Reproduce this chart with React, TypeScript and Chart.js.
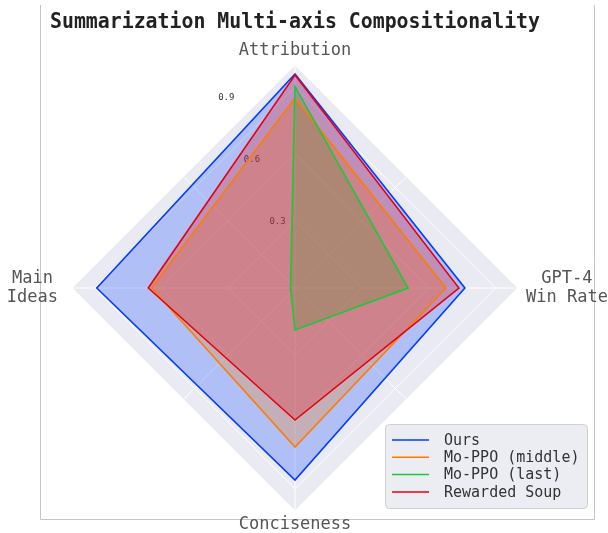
import React, { useEffect, useRef } from 'react';
import { Chart, registerables } from 'chart.js';

Chart.register(...registerables);

// ---- data ----
const TITLE = 'Summarization Multi-axis Compositionality';
const AXES: (string | string[])[] = ['Attribution', ['GPT-4', 'Win Rate'], 'Conciseness', ['Main', 'Ideas']];
const SERIES_NAMES = ['Ours', 'Mo-PPO (middle)', 'Mo-PPO (last)', 'Rewarded Soup'];
const OURS = [0.96, 0.762, 0.861, 0.889];
const MOPPO_MIDDLE = [0.852, 0.677, 0.713, 0.643];
const MOPPO_LAST = [0.903, 0.507, 0.188, 0.02];
const REWARDED_SOUP = [0.955, 0.735, 0.592, 0.658];
const SERIES_VALUES = [OURS, MOPPO_MIDDLE, MOPPO_LAST, REWARDED_SOUP];
const COLORS = ['#023eff', '#ff7c00', '#1ac938', '#e8000b'];
const TICK_VALUES = [0.3, 0.6, 0.9];
const TICK_LABELS = ['0.3', '0.6', '0.9'];
const R_MIN = 0;
const R_MAX = 1.0;

const FONT = "'DejaVu Sans Mono', monospace";

function hexToRgba(hex: string, a: number) {
  const n = parseInt(hex.slice(1), 16);
  return `rgba(${(n >> 16) & 255},${(n >> 8) & 255},${n & 255},${a})`;
}

const decorPlugin = {
  id: 'decor',
  beforeDraw(chart: any) {
    const ctx = chart.ctx;
    const s = chart.scales.r;
    const n = AXES.length;
    ctx.save();
    // frame
    ctx.strokeStyle = '#c4c4c4';
    ctx.lineWidth = 1;
    ctx.beginPath();
    ctx.moveTo(40.5, 5);
    ctx.lineTo(40.5, 519.5);
    ctx.lineTo(594.5, 519.5);
    ctx.lineTo(594.5, 5);
    ctx.stroke();
    // polar background polygon
    ctx.beginPath();
    for (let i = 0; i < n; i++) {
      const p = s.getPointPositionForValue(i, R_MAX);
      if (i === 0) ctx.moveTo(p.x, p.y);
      else ctx.lineTo(p.x, p.y);
    }
    ctx.closePath();
    ctx.fillStyle = '#eaeaf2';
    ctx.fill();
    // diagonal spokes between axes
    ctx.strokeStyle = '#ffffff';
    ctx.lineWidth = 1;
    for (let i = 0; i < n; i++) {
      const a = s.getPointPositionForValue(i, R_MAX);
      const b = s.getPointPositionForValue((i + 1) % n, R_MAX);
      ctx.beginPath();
      ctx.moveTo(s.xCenter, s.yCenter);
      ctx.lineTo((a.x + b.x) / 2, (a.y + b.y) / 2);
      ctx.stroke();
    }
    // radial tick labels
    ctx.fillStyle = '#333333';
    ctx.font = `9px ${FONT}`;
    ctx.textAlign = 'left';
    ctx.textBaseline = 'bottom';
    const ang = (22.5 * Math.PI) / 180;
    TICK_VALUES.forEach((v, k) => {
      const d = s.getDistanceFromCenterForValue(v);
      const x = s.xCenter - d * Math.sin(ang);
      const y = s.yCenter - d * Math.cos(ang);
      ctx.fillText(TICK_LABELS[k], x, y);
    });
    ctx.restore();
  },
  afterDraw(chart: any) {
    const ctx = chart.ctx;
    const s = chart.scales.r;
    const n = AXES.length;
    ctx.save();
    // axis (point) labels
    ctx.font = `17px ${FONT}`;
    ctx.fillStyle = '#555555';
    ctx.textAlign = 'center';
    ctx.textBaseline = 'middle';
    const pads = [5, 8, 4, 14];
    const lineH = 19;
    for (let i = 0; i < n; i++) {
      const lab = AXES[i];
      const lines = Array.isArray(lab) ? lab : [lab];
      const w = Math.max(...lines.map((l) => ctx.measureText(l).width));
      const h = lines.length * lineH;
      const p0 = s.getPointPosition(i, 1);
      const dx = p0.x - s.xCenter;
      const dy = p0.y - s.yCenter;
      const half = Math.abs(dx) * w / 2 + Math.abs(dy) * h / 2;
      const p = s.getPointPosition(i, s.drawingArea + pads[i] + half);
      lines.forEach((l, j) => {
        ctx.fillText(l, p.x, p.y - h / 2 + lineH * (j + 0.5));
      });
    }
    // legend
    const bx = 385, by = 424, bw = 202, bh = 84;
    ctx.beginPath();
    ctx.roundRect(bx + 0.5, by + 0.5, bw, bh, 4);
    ctx.fillStyle = 'rgba(234,234,242,0.92)';
    ctx.fill();
    ctx.strokeStyle = '#d0d0d0';
    ctx.lineWidth = 1;
    ctx.stroke();
    ctx.font = `15px ${FONT}`;
    ctx.textAlign = 'left';
    ctx.textBaseline = 'middle';
    SERIES_NAMES.forEach((name, k) => {
      const y = 440 + k * 17.3;
      ctx.strokeStyle = COLORS[k];
      ctx.lineWidth = 1.5;
      ctx.beginPath();
      ctx.moveTo(392, y);
      ctx.lineTo(429, y);
      ctx.stroke();
      ctx.fillStyle = '#333333';
      ctx.fillText(name, 444, y + 1);
    });
    ctx.restore();
  },
};

export default function App() {
  const ref = useRef<HTMLCanvasElement>(null);
  useEffect(() => {
    if (!ref.current) return;
    const chart = new Chart(ref.current, {
      type: 'radar',
      data: {
        labels: AXES as any,
        datasets: SERIES_NAMES.map((name, k) => ({
          label: name,
          data: SERIES_VALUES[k],
          borderColor: COLORS[k],
          backgroundColor: hexToRgba(COLORS[k], 0.25),
          borderWidth: 1.6,
          fill: true,
          pointRadius: 0,
          order: SERIES_NAMES.length - k,
        })),
      },
      options: {
        responsive: false,
        animation: false,
        devicePixelRatio: 1,
        layout: { padding: { left: 50, right: 68, top: 0, bottom: 22 } },
        plugins: {
          legend: { display: false },
          tooltip: { enabled: false },
          filler: { drawTime: 'beforeDatasetsDraw' },
          title: {
            display: true,
            text: TITLE,
            color: '#222222',
            font: { family: FONT, size: 21, weight: 'bold', lineHeight: 1.2 },
            padding: { top: 10, bottom: 29.8 },
          },
        },
        elements: { line: { tension: 0 } },
        scales: {
          r: {
            min: R_MIN,
            max: R_MAX,
            startAngle: 0,
            grid: { color: '#ffffff', lineWidth: 1, circular: false },
            angleLines: { color: '#ffffff', lineWidth: 1 },
            ticks: { display: false, stepSize: 0.3 },
            pointLabels: { display: false },
          },
        },
      },
      plugins: [decorPlugin],
    } as any);
    return () => chart.destroy();
  }, []);
  return (
    <div style={{ position: 'absolute', left: 0, top: 0 }}>
      <canvas ref={ref} width={608} height={533} />
    </div>
  );
}
